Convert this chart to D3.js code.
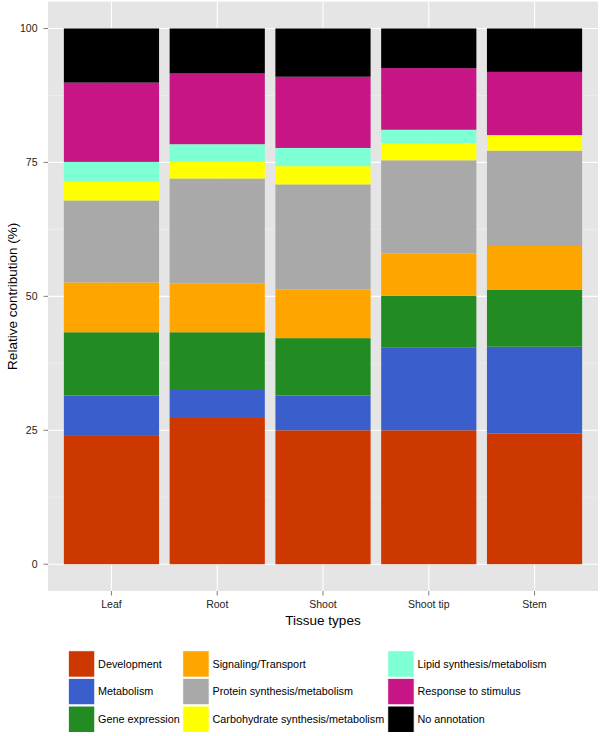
<!DOCTYPE html>
<html><head><meta charset="utf-8">
<script src="https://cdn.jsdelivr.net/npm/d3@7"></script>
<style>body{margin:0;background:#fff}svg{display:block;font-family:"Liberation Sans",Arial,sans-serif}</style>
</head><body>
<svg id="chart" width="600" height="736"></svg>
<script>
const tissues = ["Leaf","Root","Shoot","Shoot tip","Stem"];
const categories = ["Development","Metabolism","Gene expression","Signaling/Transport","Protein synthesis/metabolism","Carbohydrate synthesis/metabolism","Lipid synthesis/metabolism","Response to stimulus","No annotation"];
const colors = ["#CD3700","#3A5FCD","#228B22","#FFA500","#A9A9A9","#FFFF00","#7FFFD4","#C71585","#000000"];
const development = [24.1, 27.3, 25.0, 25.0, 24.4];
const metabolism = [7.4, 5.4, 6.5, 15.4, 16.2];
const geneExpression = [11.8, 10.6, 10.7, 9.7, 10.6];
const signaling = [9.3, 9.1, 9.1, 7.9, 8.2];
const protein = [15.3, 19.6, 19.6, 17.4, 17.8];
const carbohydrate = [3.6, 3.1, 3.4, 3.2, 2.9];
const lipid = [3.6, 3.3, 3.4, 2.5, 0.0];
const response = [14.8, 13.2, 13.3, 11.5, 11.8];
const noAnnotation = [10.1, 8.4, 9.0, 7.4, 8.1];
const yTicks = [0, 25, 50, 75, 100];
const yMinor = [12.5, 37.5, 62.5, 87.5];

const series = [development, metabolism, geneExpression, signaling, protein, carbohydrate, lipid, response, noAnnotation];
const rows = tissues.map((t, i) => {
  const r = {tissue: t};
  categories.forEach((c, k) => r[c] = series[k][i]);
  return r;
});
const stacked = d3.stack().keys(categories)(rows);

const svg = d3.select("#chart");
const L = 48, R = 598, T = 1.7, B = 591;
// ggplot-style discrete axis: expansion 0.6 units on each side, bar width 0.9
const x = d3.scalePoint().domain(tissues).range([L, R]).padding(0.6);
const xc = d => x(d);
const bw = x.step() * 0.9;
const y = d3.scaleLinear().domain([-5, 105]).range([B, T]);

svg.append("rect").attr("x", L).attr("y", T).attr("width", R - L).attr("height", B - T).attr("fill", "#E5E5E5");
svg.append("g").selectAll("line").data(yMinor).join("line")
  .attr("x1", L).attr("x2", R).attr("y1", d => y(d)).attr("y2", d => y(d))
  .attr("stroke", "#F2F2F2").attr("stroke-width", 0.6);
svg.append("g").selectAll("line").data(yTicks).join("line")
  .attr("x1", L).attr("x2", R).attr("y1", d => y(d)).attr("y2", d => y(d))
  .attr("stroke", "#fff").attr("stroke-width", 1.1);
svg.append("g").selectAll("line").data(tissues).join("line")
  .attr("x1", d => xc(d)).attr("x2", d => xc(d)).attr("y1", T).attr("y2", B)
  .attr("stroke", "#fff").attr("stroke-width", 1.1);

svg.append("g").selectAll("g").data(stacked).join("g")
  .attr("fill", (d, i) => colors[i])
  .selectAll("rect").data(d => d).join("rect")
  .attr("x", d => xc(d.data.tissue) - bw / 2)
  .attr("width", bw)
  .attr("y", d => y(d[1]))
  .attr("height", d => Math.max(0, y(d[0]) - y(d[1])));

// Y axis
const yAxis = svg.append("g");
yAxis.selectAll("line").data(yTicks).join("line")
  .attr("x1", L - 4.5).attr("x2", L).attr("y1", d => y(d)).attr("y2", d => y(d))
  .attr("stroke", "#7f7f7f").attr("stroke-width", 1);
yAxis.selectAll("text").data(yTicks).join("text")
  .attr("x", L - 10.5).attr("y", d => y(d)).attr("dy", "0.35em")
  .attr("text-anchor", "end").attr("font-size", 10.5).attr("fill", "#222")
  .text(d => d);
// X axis
const xAxis = svg.append("g");
xAxis.selectAll("line").data(tissues).join("line")
  .attr("x1", d => xc(d)).attr("x2", d => xc(d)).attr("y1", B).attr("y2", B + 4.5)
  .attr("stroke", "#7f7f7f").attr("stroke-width", 1);
xAxis.selectAll("text").data(tissues).join("text")
  .attr("x", d => xc(d)).attr("y", 604).attr("dy", "0.35em")
  .attr("text-anchor", "middle").attr("font-size", 10.5).attr("fill", "#222")
  .text(d => d);

svg.append("text").attr("x", (L + R) / 2).attr("y", 620).attr("dy", "0.35em")
  .attr("text-anchor", "middle").attr("font-size", 13.5).attr("fill", "#000").text("Tissue types");
svg.append("text").attr("transform", `translate(12,${(T + B) / 2}) rotate(-90)`).attr("dy", "0.35em")
  .attr("text-anchor", "middle").attr("font-size", 13.5).attr("fill", "#000").text("Relative contribution (%)");

// Legend
const colX = [68.3, 182.7, 387.7];
const rowY = [650.7, 678.3, 706];
const ks = 26.5;
const leg = svg.append("g");
categories.forEach((c, i) => {
  const col = Math.floor(i / 3), row = i % 3;
  leg.append("rect").attr("x", colX[col]).attr("y", rowY[row]).attr("width", ks).attr("height", ks)
    .attr("fill", colors[i]).attr("stroke", "#fff").attr("stroke-width", 1);
  leg.append("text").attr("x", colX[col] + ks + 3.3).attr("y", rowY[row] + ks / 2).attr("dy", "0.35em")
    .attr("font-size", 10.8).attr("fill", "#000").text(c);
});
</script>
</body></html>
